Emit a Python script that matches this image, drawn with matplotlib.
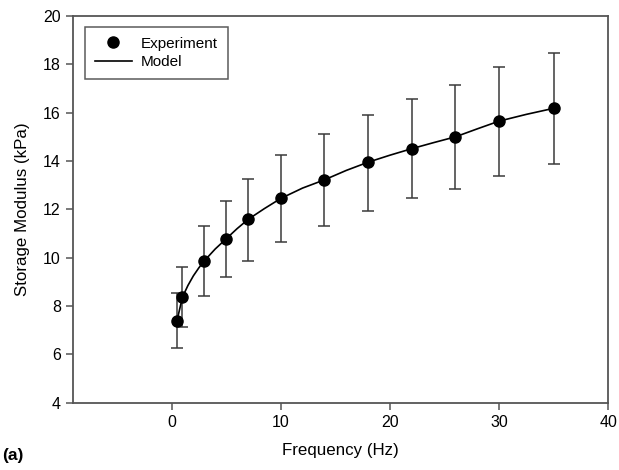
import matplotlib; matplotlib.use("Agg")
import matplotlib.pyplot as plt

# experiment: frequency (Hz), storage modulus (kPa), error bar half-widths
freq = [0.5, 1, 3, 5, 7, 10, 14, 18, 22, 26, 30, 35]
modulus = [7.40, 8.37, 9.87, 10.78, 11.58, 12.45, 13.22, 13.95, 14.51, 15.00, 15.65, 16.18]
err_lo = [1.14, 1.25, 1.46, 1.57, 1.71, 1.81, 1.90, 2.01, 2.05, 2.15, 2.25, 2.30]
err_hi = [1.14, 1.24, 1.42, 1.56, 1.67, 1.78, 1.89, 1.97, 2.06, 2.13, 2.25, 2.30]

# model curve
model_f = [0.5, 1, 1.5, 2, 2.5, 3, 4, 5, 6, 7, 8.5, 10, 12, 14, 16, 18, 20, 22, 24, 26, 28, 30, 32.5, 35]
model_g = [7.40, 8.37, 8.85, 9.25, 9.58, 9.87, 10.36, 10.78, 11.20, 11.58, 12.03, 12.45, 12.88, 13.22,
           13.61, 13.95, 14.24, 14.51, 14.76, 15.00, 15.33, 15.65, 15.93, 16.18]

plt.rcParams["font.family"] = ["Liberation Sans", "DejaVu Sans"]
fig = plt.figure(figsize=(6.19, 4.70), dpi=100)
ax = fig.add_axes([0.1184, 0.1432, 0.8643, 0.8228])

ax.errorbar(freq, modulus, yerr=[err_lo, err_hi], fmt="none", ecolor="#3a3a3a",
            elinewidth=1.1, capsize=4, capthick=1.1, zorder=2)
ax.plot(model_f, model_g, color="black", lw=1.2, zorder=3, label="Model")
ax.plot(freq, modulus, "o", color="black", ms=8, zorder=4, label="Experiment")

ax.set_xlim(-9, 40)
ax.set_ylim(4, 20)
ax.set_xticks([0, 10, 20, 30, 40])
ax.set_yticks(range(4, 21, 2))
ax.tick_params(direction="out", length=5, width=1.1, color="#555555", labelsize=11.5, pad=4)
for s in ax.spines.values():
    s.set_color("#555555"); s.set_linewidth(1.3)

ax.set_xlabel("Frequency (Hz)", fontsize=12.2, labelpad=9)
ax.set_ylabel("Storage Modulus (kPa)", fontsize=12.2, labelpad=9)
fig.text(0.004, 0.022, "(a)", fontsize=12.5, fontweight="bold")

h, l = ax.get_legend_handles_labels()
leg = ax.legend(h[::-1], l[::-1], loc="upper left", bbox_to_anchor=(0.022, 0.972), fontsize=11,
                frameon=True, fancybox=False, edgecolor="#333333", handlelength=2.4,
                borderpad=0.65, labelspacing=0.3, handletextpad=0.6, borderaxespad=0)
leg.get_frame().set_linewidth(1.1)

fig.savefig("out.png", dpi=100)
